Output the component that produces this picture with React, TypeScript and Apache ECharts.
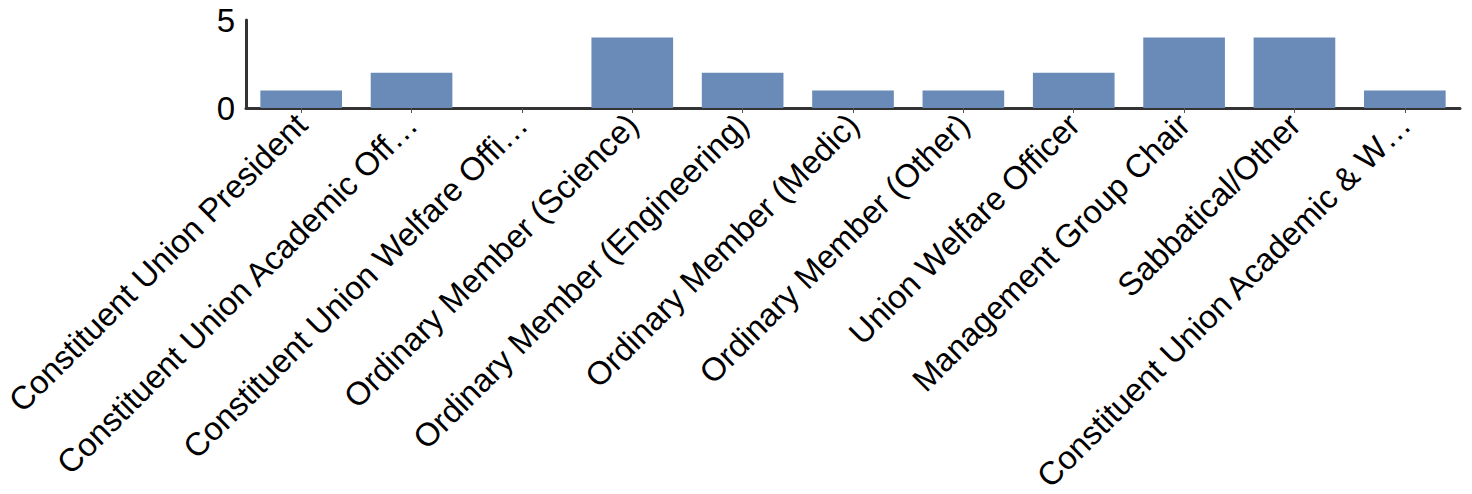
import React, { useEffect, useRef } from "react";
import * as echarts from "echarts";

const categories = [
  "Constituent Union President",
  "Constituent Union Academic Officer",
  "Constituent Union Welfare Officer",
  "Ordinary Member (Science)",
  "Ordinary Member (Engineering)",
  "Ordinary Member (Medic)",
  "Ordinary Member (Other)",
  "Union Welfare Officer",
  "Management Group Chair",
  "Sabbatical/Other",
  "Constituent Union Academic & Welfare Officer",
];
const values = [1, 2, 0, 4, 2, 1, 1, 2, 4, 4, 1];
const yTicks = { min: 0, max: 5, interval: 5 };
const maxLabelChars = 30;

const FONT = "'Liberation Sans', Arial, Helvetica, sans-serif";

export default function App() {
  const ref = useRef<HTMLDivElement>(null);
  useEffect(() => {
    if (!ref.current) return;
    const chart = echarts.init(ref.current, null, { renderer: "svg" });
    chart.setOption({
      animation: false,
      grid: {
        left: 246,
        right: 12,
        top: 20,
        bottom: 386,
        containLabel: false,
        outerBoundsMode: "none",
      },
      xAxis: {
        type: "category",
        data: categories,
        axisLine: { show: true, lineStyle: { color: "#333", width: 3 } },
        axisTick: { show: true, alignWithLabel: true, length: 5, lineStyle: { color: "#555", width: 1 } },
        axisLabel: {
          rotate: 45,
          interval: 0,
          margin: 11,
          color: "#000",
          fontSize: 32.6,
          fontFamily: FONT,
          formatter: (v: string) => (v.length > maxLabelChars ? v.slice(0, maxLabelChars) + "…" : v),
        },
      },
      yAxis: {
        type: "value",
        min: yTicks.min,
        max: yTicks.max,
        interval: yTicks.interval,
        splitLine: { show: false },
        axisLine: { show: true, lineStyle: { color: "#333", width: 3 } },
        axisTick: { show: false },
        axisLabel: { color: "#000", fontSize: 33, fontFamily: FONT, margin: 11 },
      },
      series: [
        {
          type: "bar",
          data: values,
          barCategoryGap: "26%",
          itemStyle: { color: "#6a8bb8", borderWidth: 0 },
        },
      ],
    });
    return () => chart.dispose();
  }, []);
  return (
    <div
      ref={ref}
      style={{ position: "fixed", left: 0, top: 0, width: 1472, height: 494, background: "#fff" }}
    />
  );
}
